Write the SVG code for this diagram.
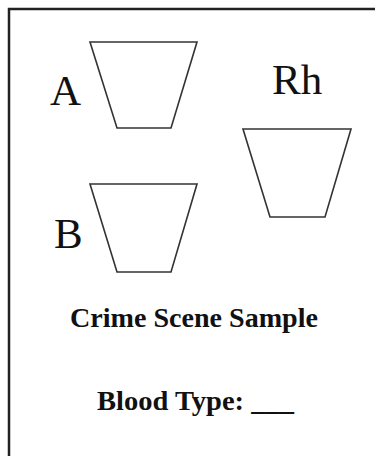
<svg xmlns="http://www.w3.org/2000/svg" width="375" height="456" viewBox="0 0 375 456">
<style>
.frame{fill:none;stroke:#222;stroke-width:2.5}
.well{fill:none;stroke:#333;stroke-width:1.6;stroke-linejoin:miter}
.lbl{font-family:"Liberation Serif",serif;font-size:43px;fill:#111}
.cap{font-family:"Liberation Serif",serif;font-size:28px;font-weight:bold;fill:#111}
</style>
<rect width="375" height="456" fill="#fff"/>
<path class="frame" d="M9,460 V9 H380"/>
<g id="wellA">
<polygon class="well" points="90,42 197,42 171,128 117,128"/>
<text class="lbl" x="50" y="105">A</text>
</g>
<g id="wellRh">
<polygon class="well" points="243,129 351,129 325,217 270,217"/>
<text class="lbl" x="272" y="94">Rh</text>
</g>
<g id="wellB">
<polygon class="well" points="90,184 197,184 171,272 117,272"/>
<text class="lbl" x="54" y="248">B</text>
</g>
<text class="cap" x="70" y="327" textLength="248" lengthAdjust="spacingAndGlyphs">Crime Scene Sample</text>
<text class="cap" x="97" y="410" textLength="197" lengthAdjust="spacingAndGlyphs">Blood Type: ___</text>
</svg>
